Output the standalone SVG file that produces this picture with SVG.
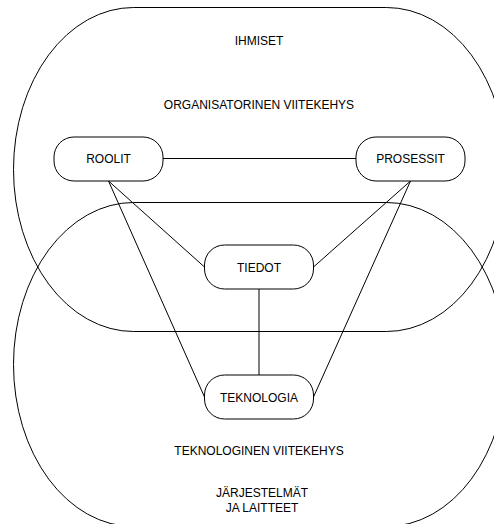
<svg xmlns="http://www.w3.org/2000/svg" width="494" height="524" viewBox="0 0 494 524">
  <style>
    .frame { fill: none; stroke: #000; stroke-width: 1; }
    .node rect { fill: #fff; stroke: #000; stroke-width: 1; }
    .conn line { stroke: #000; stroke-width: 1; }
    text { font-family: "Liberation Sans", Arial, sans-serif; font-size: 12px; fill: #000; text-anchor: middle; }
  </style>
  <rect width="494" height="524" fill="#fff"/>

  <!-- large frames: organisational (top) and technological (bottom) -->
  <g id="frame-organisatorinen">
    <rect class="frame" x="13.5" y="7.5" width="493" height="324" rx="120" ry="162"/>
    <text x="259" y="45">IHMISET</text>
    <text x="259" y="109">ORGANISATORINEN VIITEKEHYS</text>
  </g>
  <g id="frame-teknologinen">
    <rect class="frame" x="13.5" y="202.5" width="493" height="324" rx="120" ry="162"/>
    <text x="259" y="454.5">TEKNOLOGINEN VIITEKEHYS</text>
    <text x="262" y="497">JÄRJESTELMÄT</text>
    <text x="262" y="511.5">JA LAITTEET</text>
  </g>

  <!-- connectors -->
  <g id="connectors" class="conn">
    <line x1="163" y1="158.5" x2="356" y2="158.5"/>
    <line x1="108.5" y1="181" x2="204.5" y2="267"/>
    <line x1="108.5" y1="181" x2="204.5" y2="397"/>
    <line x1="410.5" y1="181" x2="313.5" y2="267"/>
    <line x1="410.5" y1="181" x2="313.5" y2="397"/>
    <line x1="259" y1="289" x2="259" y2="375"/>
  </g>

  <!-- nodes -->
  <g id="roolit" class="node">
    <rect x="54" y="137" width="109" height="44" rx="20" ry="20"/>
    <text x="108.5" y="163">ROOLIT</text>
  </g>
  <g id="prosessit" class="node">
    <rect x="356" y="137" width="109" height="44" rx="20" ry="20"/>
    <text x="410.5" y="163">PROSESSIT</text>
  </g>
  <g id="tiedot" class="node">
    <rect x="204.5" y="245" width="109" height="44" rx="20" ry="20"/>
    <text x="259" y="271.5">TIEDOT</text>
  </g>
  <g id="teknologia" class="node">
    <rect x="204.5" y="375" width="109" height="44" rx="20" ry="20"/>
    <text x="259" y="401.5">TEKNOLOGIA</text>
  </g>
</svg>
